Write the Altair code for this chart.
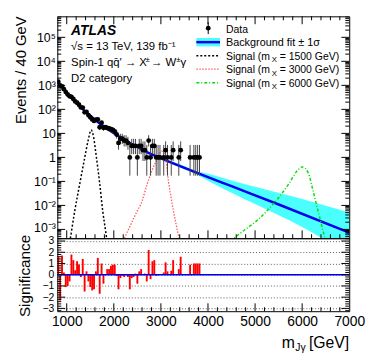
import math
import altair as alt
import pandas as pd

FONT = "Liberation Sans"
W, H_MAIN, H_SIG = 296, 225, 74
X_DOMAIN = [800, 7000]
Y_DOMAIN = [4.3e-4, 7.5e5]
S_DOMAIN = [-3.25, 3.25]

# ---------------- data ----------------
BIN_START, BIN_WIDTH = 800, 40
data_counts = [1410, 1000, 900, 695, 525, 420, 352, 333, 272, 215,
               190, 156, 121, 119, 75, 78, 58, 47, 38, 33,
               37, 38, 18, 28, 17, 18, 17, 16, 15, 14,
               12, 9, 4, 6, 6, 5, 5, 4, 1, 3,
               3, 3, 1, 3, 3, 2, 2, 1, 5, 1,
               3, 3, 1, 1, 1, None, 1, 2, 1, None,
               1, 2, None, None, 1, 2, None, None, None, None,
               1, None, 1, 1, 1, 1]
significance = [1.6, -2.3, 1.7, 0.2, -1.1, -1.0, -0.6, 1.8, 1.3, 0.4,
                1.2, 0.9, -0.2, 1.4, -1.5, 0.3, -0.6, -1.1, -1.4, -1.3,
                0.3, 1.5, -1.7, 1.0, -0.8, 0.0, 0.5, 0.5, 0.8, 0.9,
                0.9, -0.1, -1.3, -0.3, -0.1, -0.2, 0.05, -0.2, -1.3, -0.3,
                -0.2, 0.1, -0.8, 0.3, 0.5, 0.0, 0.1, -0.6, 2.2, -0.4,
                1.2, 1.3, -0.1, -0.05, 0.05, None, 0.2, 1.1, 0.3, None,
                0.35, 1.3, None, None, 0.5, 1.6, None, None, None, None,
                0.9, None, 1.0, 1.0, 1.0, 1.0]

bkg_mass = [800, 1030, 1240, 1450, 1660, 1868, 2078, 2287, 2497, 2706, 3056, 3754, 4500, 5490, 7000]
bkg_value = [1510, 417, 158, 66, 30, 15.1, 8.1, 4.6, 2.7, 1.66, 0.83, 0.234, 0.063, 0.0112, 7.4e-4]

band_mass = [800, 1030, 1240, 1450, 1660, 1868, 2078, 2287, 2497, 2706, 3056, 3500, 3754,
             4000, 4500, 5000, 5490, 6000, 6500, 7000]
band_high = [1530, 423, 160.5, 67, 30.5, 15.35, 8.25, 4.7, 2.77, 1.72, 0.88, 0.44, 0.27,
             0.21, 0.11, 0.060, 0.034, 0.0186, 0.0097, 0.0051]
band_low = [1490, 411, 155.5, 65, 29.5, 14.85, 7.95, 4.5, 2.63, 1.60, 0.78, 0.32, 0.20,
            0.107, 0.034, 0.0115, 0.004, 0.00126, 3.4e-4, 8.3e-5]

sig1500_mass = [1050, 1087, 1171, 1276, 1380, 1449, 1519, 1575, 1623, 1695, 1764, 1833, 1870]
sig1500_value = [2e-4, 5.6e-4, 0.006, 0.078, 0.93, 4.5, 13.8, 6.2, 1.3, 0.1, 0.006, 6.8e-4, 2e-4]
sig3000_mass = [2145, 2252, 2480, 2602, 2706, 2880, 3021, 3090, 3161, 3266, 3371, 3417]
sig3000_value = [2e-4, 5.6e-4, 0.005, 0.0155, 0.075, 0.58, 1.8, 1.1, 0.1, 0.006, 5.6e-4, 2e-4]
sig6000_mass = [4350, 4627, 5151, 5499, 5709, 5918, 6002, 6128, 6232, 6337, 6442, 6525]
sig6000_value = [2e-4, 5.6e-4, 0.0037, 0.021, 0.075, 0.31, 0.40, 0.23, 0.04, 0.006, 9e-4, 2e-4]

x_labels = [1000, 2000, 3000, 4000, 5000, 6000, 7000]
y_labels_main = [1e-3, 1e-2, 1e-1, 1, 10, 100, 1e3, 1e4, 1e5]
y_labels_sig = [-3, -2, -1, 0, 1, 2, 3]

# Poisson (Garwood) 68% intervals for small counts
GARWOOD = {1: (0.173, 3.300), 2: (0.708, 4.638), 3: (1.367, 5.918), 4: (2.086, 7.163),
           5: (2.840, 8.382), 6: (3.620, 9.584), 7: (4.419, 10.77), 8: (5.232, 11.95),
           9: (6.057, 13.11), 10: (6.891, 14.27)}

rows, srows = [], []
for i, (n, s) in enumerate(zip(data_counts, significance)):
    lo = BIN_START + i * BIN_WIDTH
    hi = lo + BIN_WIDTH
    if n is not None:
        elo, ehi = GARWOOD.get(n, (n - math.sqrt(n), n + math.sqrt(n)))
        rows.append(dict(m=(lo + hi) / 2, mlo=lo, mhi=hi, n=n, nlo=elo, nhi=ehi))
    if s is not None:
        srows.append(dict(mlo=lo, mhi=hi, s=s, zero=0))
df_data = pd.DataFrame(rows)
df_sig = pd.DataFrame(srows)
df_bkg = pd.DataFrame(dict(m=bkg_mass, v=bkg_value))
df_band = pd.DataFrame(dict(m=band_mass, lo=band_low, hi=band_high))
df_s1 = pd.DataFrame(dict(m=sig1500_mass, v=sig1500_value))
df_s2 = pd.DataFrame(dict(m=sig3000_mass, v=sig3000_value))
df_s3 = pd.DataFrame(dict(m=sig6000_mass, v=sig6000_value))
one = pd.DataFrame({"z": [0]})

# tick positions
x_minor = [v for v in range(1000, 7000, 200) if v % 1000 != 0]
y_minor_main = [m * 10.0 ** k for k in range(-4, 6) for m in range(2, 10)
                if Y_DOMAIN[0] < m * 10.0 ** k < Y_DOMAIN[1]]
y_major_main = y_labels_main
s_minor = [round(k * 0.2, 1) for k in range(-16, 17) if k % 5 != 0]

xs = alt.Scale(domain=X_DOMAIN, nice=False, zero=False)
ys = alt.Scale(type="log", domain=Y_DOMAIN, nice=False)
ss = alt.Scale(domain=S_DOMAIN, nice=False, zero=False)

label_expr = ("datum.value >= 1e5 ? '10⁵' : datum.value >= 1e4 ? '10⁴' : datum.value >= 1e3 ? '10³' : "
              "datum.value >= 100 ? '10²' : datum.value >= 10 ? '10' : datum.value >= 1 ? '1' : "
              "datum.value >= 0.1 ? '10⁻¹' : datum.value >= 0.01 ? '10⁻²' : '10⁻³'")

BLUE = "#0000ee"
CYAN = "#00ffff"

AX_Y_MAIN = alt.Axis(values=y_labels_main, labelExpr=label_expr, ticks=False, tickSize=0,
                     domain=False, grid=False, title=None, labelFont=FONT, labelFontSize=12.5,
                     labelPadding=2, labelColor="black", labelOverlap=False,
                     labelOffset={"condition": {"test": "datum.value < 0.002", "value": -1.5}, "value": 0})
AX_X_SIG = alt.Axis(values=x_labels, format="d", ticks=False, tickSize=0, domain=False, grid=False,
                    title=None, labelFont=FONT, labelFontSize=14, labelPadding=4,
                    labelColor="black", labelOverlap=False, labelFlush=False)
AX_Y_SIG = alt.Axis(values=y_labels_sig, ticks=False, tickSize=0, domain=False, grid=True,
                    gridDash=[1, 2], gridColor="#333333", gridWidth=0.8, title=None,
                    labelFont=FONT, labelFontSize=10.5, labelPadding=3.5, labelColor="black",
                    labelOverlap=False)


def vticks(values, xaxis, y0, y1):
    return alt.Chart(pd.DataFrame({"v": values})).mark_rule(color="black", strokeWidth=1).encode(
        x=alt.X("v:Q", scale=xs, axis=xaxis), y=alt.value(y0), y2=alt.value(y1))


def hticks(values, scale, yaxis, x0, x1):
    return alt.Chart(pd.DataFrame({"v": values})).mark_rule(color="black", strokeWidth=1).encode(
        y=alt.Y("v:Q", scale=scale, axis=yaxis), x=alt.value(x0), x2=alt.value(x1))


def txt(s, x, y, size=10.6, align="left", baseline="alphabetic", **kw):
    return alt.Chart(one).mark_text(text=s, align=align, baseline=baseline, fontSize=size,
                                    font=FONT, color="black", **kw).encode(
        x=alt.value(x), y=alt.value(y))


def seg(x0, x1, y, color, width, dash=None):
    kw = {} if dash is None else {"strokeDash": dash}
    return alt.Chart(one).mark_rule(color=color, strokeWidth=width, **kw).encode(
        x=alt.value(x0), x2=alt.value(x1), y=alt.value(y))


# ---------------- main panel ----------------
band = alt.Chart(df_band).mark_area(color=CYAN, opacity=0.7, clip=True, interpolate="monotone").encode(
    x=alt.X("m:Q", scale=xs, axis=None),
    y=alt.Y("lo:Q", scale=ys, axis=AX_Y_MAIN),
    y2="hi:Q")
bkg = alt.Chart(df_bkg).mark_line(color=BLUE, strokeWidth=2.5, clip=True, interpolate="monotone").encode(
    x=alt.X("m:Q", scale=xs, axis=None), y=alt.Y("v:Q", scale=ys, axis=AX_Y_MAIN))


def sigline(df, color, dash, width):
    return alt.Chart(df).mark_line(color=color, strokeWidth=width, strokeDash=dash, clip=True,
                                   interpolate="monotone").encode(
        x=alt.X("m:Q", scale=xs, axis=None), y=alt.Y("v:Q", scale=ys, axis=AX_Y_MAIN))


s1 = sigline(df_s1, "black", [2, 2], 1.5)
s2 = sigline(df_s2, "#ff5a5a", [1.5, 1.5], 1.3)
s3 = sigline(df_s3, "#00e000", [3, 2, 1, 2], 1.5)

data_h = alt.Chart(df_data).mark_rule(color="black", strokeWidth=1.2, clip=True).encode(
    x=alt.X("mlo:Q", scale=xs, axis=None), x2="mhi:Q", y=alt.Y("n:Q", scale=ys, axis=AX_Y_MAIN))
data_v = alt.Chart(df_data).mark_rule(color="#444444", strokeWidth=1, clip=True).encode(
    x=alt.X("m:Q", scale=xs, axis=None), y=alt.Y("nlo:Q", scale=ys, axis=AX_Y_MAIN), y2="nhi:Q")
data_p = alt.Chart(df_data).mark_circle(color="black", size=24, opacity=1, clip=True).encode(
    x=alt.X("m:Q", scale=xs, axis=None), y=alt.Y("n:Q", scale=ys, axis=AX_Y_MAIN))

main_ticks = [
    vticks(x_labels[:-1], None, H_MAIN, H_MAIN - 8), vticks(x_minor, None, H_MAIN, H_MAIN - 4),
    vticks(x_labels[:-1], None, 0, 8), vticks(x_minor, None, 0, 4),
    hticks(y_major_main, ys, AX_Y_MAIN, 0, 8), hticks(y_minor_main, ys, AX_Y_MAIN, 0, 4),
    hticks(y_major_main, ys, AX_Y_MAIN, W, W - 8), hticks(y_minor_main, ys, AX_Y_MAIN, W, W - 4),
]

LX = 171
main_text = [
    txt("ATLAS", 14, 18.7, size=14, fontWeight="bold", fontStyle="italic"),
    txt("√s = 13 TeV, 139 fb⁻¹", 14, 34.5, size=11.5),
    txt("Spin-1 qq̄′ → X", 14, 50.5, size=11.5),
    txt("±", 89.5, 46.5, size=8),
    txt("→ W", 95, 50.5, size=11.5),
    txt("±", 120.5, 46.5, size=8),
    txt("γ", 125, 50.5, size=11.5),
    txt("D2 category", 14, 67, size=11.5),
    txt("Events / 40 GeV", -32, 0, size=15, align="right", angle=270),
    # legend
    alt.Chart(one).mark_circle(color="black", size=24, opacity=1).encode(x=alt.value(153), y=alt.value(12)),
    alt.Chart(one).mark_rule(color="black", strokeWidth=1).encode(x=alt.value(153), y=alt.value(6), y2=alt.value(18)),
    txt("Data", LX, 16.5),
    alt.Chart(one).mark_rect(color=CYAN, opacity=0.7).encode(
        x=alt.value(141), x2=alt.value(165), y=alt.value(22), y2=alt.value(30.5)),
    seg(141, 165, 26.2, BLUE, 2.5),
    txt("Background fit ± 1σ", LX, 30.2, size=11),
]
for yb, dash, col, w, lab in [(43.9, [2, 2], "black", 1.5, "1500"),
                              (57.6, [1.5, 1.5], "#ff5a5a", 1.3, "3000"),
                              (71.3, [3, 2, 1, 2], "#00e000", 1.5, "6000")]:
    main_text += [seg(141, 165, yb - 4, col, w, dash),
                  txt("Signal (m", LX, yb),
                  txt("X", LX + 46.5, yb + 2.5, size=8),
                  txt("= " + lab + " GeV)", LX + 54.5, yb)]

main = alt.layer(band, bkg, s1, s2, s3, data_h, data_v, data_p, *main_ticks, *main_text).properties(
    width=W, height=H_MAIN)

# ---------------- significance panel ----------------
bars = alt.Chart(df_sig).mark_rect(color="#ff0000").encode(
    x=alt.X("mlo:Q", scale=xs, axis=AX_X_SIG),
    x2="mhi:Q",
    y=alt.Y("s:Q", scale=ss, axis=AX_Y_SIG),
    y2="zero:Q")
zero_line = alt.Chart(one).mark_rule(color=BLUE, strokeWidth=1.5).encode(
    y=alt.Y("z:Q", scale=ss, axis=AX_Y_SIG))
sig_ticks = [
    vticks(x_labels[:-1], AX_X_SIG, H_SIG, H_SIG - 8), vticks(x_minor, AX_X_SIG, H_SIG, H_SIG - 4),
    hticks(y_labels_sig, ss, AX_Y_SIG, 0, 8), hticks(s_minor, ss, AX_Y_SIG, 0, 4),
    hticks(y_labels_sig, ss, AX_Y_SIG, W, W - 8), hticks(s_minor, ss, AX_Y_SIG, W, W - 4),
]
sig_text = [
    txt("Significance", -28, 80, size=15.5, align="left", angle=270),
    txt("m", 227.7, 111.5, size=16),
    txt("Jγ", 241.3, 114.5, size=10.5),
    txt("[GeV]", 296, 111.5, size=16, align="right"),
]
lower = alt.layer(bars, zero_line, *sig_ticks, *sig_text).properties(width=W, height=H_SIG)

chart = alt.vconcat(main, lower, spacing=0, bounds="flush").properties(
    padding={"left": 5, "top": 5, "right": 0, "bottom": 0},
    background="white",
).configure_view(stroke="black", strokeWidth=1)

chart.save("out.html", embed_options={"renderer": "svg", "actions": False})
